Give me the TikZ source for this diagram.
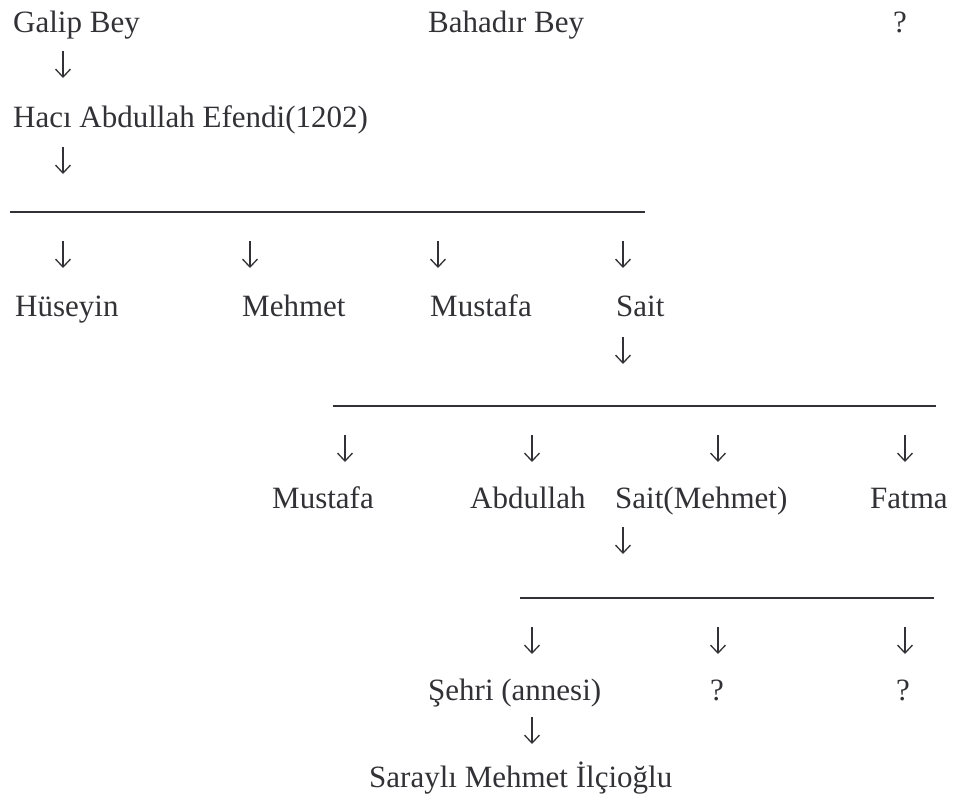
\documentclass[tikz,border=0pt]{standalone}
\usepackage{fontspec}
\setmainfont{Liberation Serif}
\usepackage{xcolor}
\usepackage{tikz}
\usetikzlibrary{arrows.meta}
\definecolor{scan}{RGB}{50,50,54}

\begin{document}
\begin{tikzpicture}[x=1pt,y=-1pt,
  person/.style={anchor=base west,inner sep=0pt,text=scan,font=\fontsize{31}{36}\selectfont},
  darr/.style={draw=scan,line width=1.3pt,-{Straight Barb[length=8pt,width=15pt,line width=1.3pt]}},
  bar/.style={draw=scan,line width=1.6pt}]
\useasboundingbox (0,0) rectangle (962,809);
\node[person] (galip) at (13,32) {Galip Bey};
\node[person] (bahadir) at (428,32) {Bahadır Bey};
\node[person,anchor=base] (q0) at (900,32) {?};
\coordinate (d1t) at (63,51); \coordinate (d1b) at (63,78); \draw[darr] (d1t) -- (d1b);
\node[person] (haci) at (13,127) {Hacı Abdullah Efendi(1202)};
\coordinate (d2t) at (63,147); \coordinate (d2b) at (63,174); \draw[darr] (d2t) -- (d2b);
\coordinate (b1w) at (10,212);
\coordinate (b1e) at (645,212);
\draw[bar] (b1w) -- (b1e);
\coordinate (d3t) at (63,241); \coordinate (d3b) at (63,268); \draw[darr] (d3t) -- (d3b);
\coordinate (d4t) at (250,241); \coordinate (d4b) at (250,268); \draw[darr] (d4t) -- (d4b);
\coordinate (d5t) at (438,241); \coordinate (d5b) at (438,268); \draw[darr] (d5t) -- (d5b);
\coordinate (d6t) at (623,241); \coordinate (d6b) at (623,268); \draw[darr] (d6t) -- (d6b);
\node[person] (huseyin) at (15,316) {Hüseyin};
\node[person] (mehmet) at (242,316) {Mehmet};
\node[person] (mustafa) at (430,316) {Mustafa};
\node[person] (sait) at (616,316) {Sait};
\coordinate (d7t) at (623,337); \coordinate (d7b) at (623,364); \draw[darr] (d7t) -- (d7b);
\coordinate (b2w) at (333,406);
\coordinate (b2e) at (936,406);
\draw[bar] (b2w) -- (b2e);
\coordinate (d8t) at (345,435); \coordinate (d8b) at (345,462); \draw[darr] (d8t) -- (d8b);
\coordinate (d9t) at (532,435); \coordinate (d9b) at (532,462); \draw[darr] (d9t) -- (d9b);
\coordinate (d10t) at (718,435); \coordinate (d10b) at (718,462); \draw[darr] (d10t) -- (d10b);
\coordinate (d11t) at (905,435); \coordinate (d11b) at (905,462); \draw[darr] (d11t) -- (d11b);
\node[person] (mustafa2) at (272,508) {Mustafa};
\node[person] (abdullah) at (470,508) {Abdullah};
\node[person] (sait2) at (615,508) {Sait(Mehmet)};
\node[person] (fatma) at (870,508) {Fatma};
\coordinate (d12t) at (623,527); \coordinate (d12b) at (623,554); \draw[darr] (d12t) -- (d12b);
\coordinate (b3w) at (520,598);
\coordinate (b3e) at (934,598);
\draw[bar] (b3w) -- (b3e);
\coordinate (d13t) at (532,627); \coordinate (d13b) at (532,654); \draw[darr] (d13t) -- (d13b);
\coordinate (d14t) at (718,627); \coordinate (d14b) at (718,654); \draw[darr] (d14t) -- (d14b);
\coordinate (d15t) at (905,627); \coordinate (d15b) at (905,654); \draw[darr] (d15t) -- (d15b);
\node[person] (sehri) at (428,700) {Şehri (annesi)};
\node[person,anchor=base] (q1) at (717,700) {?};
\node[person,anchor=base] (q2) at (903,700) {?};
\coordinate (d16t) at (532,717); \coordinate (d16b) at (532,744); \draw[darr] (d16t) -- (d16b);
\node[person] (sarayli) at (369,787) {Saraylı Mehmet İlçioğlu};
\end{tikzpicture}
\end{document}
